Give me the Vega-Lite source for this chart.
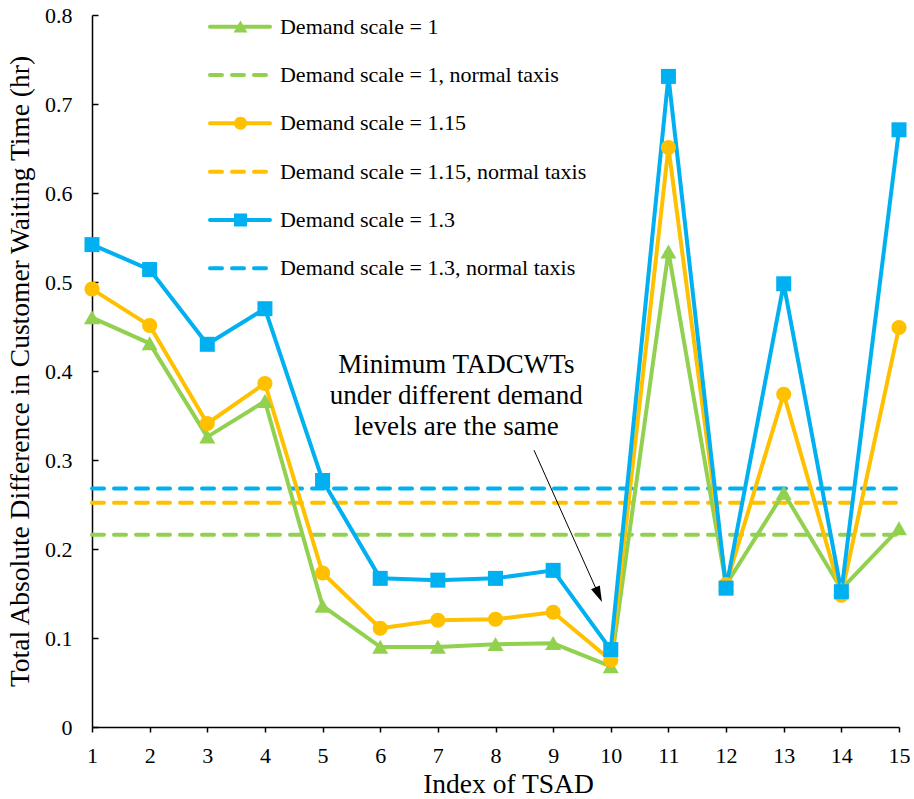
{
  "$schema": "https://vega.github.io/schema/vega-lite/v6.json",
  "width": 807,
  "height": 712,
  "autosize": {"type": "none"},
  "padding": {"left": 92, "top": 15, "right": 15, "bottom": 72},
  "background": "white",
  "config": {
    "view": {"stroke": null},
    "font": "Liberation Serif",
    "axis": {
      "domainColor": "black",
      "domainWidth": 1.5,
      "tickColor": "black",
      "tickWidth": 1.5,
      "labelColor": "black",
      "titleColor": "black",
      "labelFont": "Liberation Serif",
      "titleFont": "Liberation Serif",
      "titleFontWeight": "normal",
      "labelFontSize": 22,
      "titleFontSize": 27.5,
      "grid": false
    }
  },
  "resolve": {"scale": {"y": "independent"}, "axis": {"y": "independent"}},
  "layer": [
    {
      "layer": [
        {
          "data": {
            "values": [
              {"idx": 1, "value": 0.216, "series": "Demand scale = 1, normal taxis"},
              {"idx": 15, "value": 0.216, "series": "Demand scale = 1, normal taxis"},
              {"idx": 1, "value": 0.252, "series": "Demand scale = 1.15, normal taxis"},
              {"idx": 15, "value": 0.252, "series": "Demand scale = 1.15, normal taxis"},
              {"idx": 1, "value": 0.268, "series": "Demand scale = 1.3, normal taxis"},
              {"idx": 15, "value": 0.268, "series": "Demand scale = 1.3, normal taxis"},
              {"idx": 1, "value": 0.46, "series": "Demand scale = 1"},
              {"idx": 2, "value": 0.431, "series": "Demand scale = 1"},
              {"idx": 3, "value": 0.326, "series": "Demand scale = 1"},
              {"idx": 4, "value": 0.366, "series": "Demand scale = 1"},
              {"idx": 5, "value": 0.136, "series": "Demand scale = 1"},
              {"idx": 6, "value": 0.09, "series": "Demand scale = 1"},
              {"idx": 7, "value": 0.09, "series": "Demand scale = 1"},
              {"idx": 8, "value": 0.093, "series": "Demand scale = 1"},
              {"idx": 9, "value": 0.094, "series": "Demand scale = 1"},
              {"idx": 10, "value": 0.068, "series": "Demand scale = 1"},
              {"idx": 11, "value": 0.534, "series": "Demand scale = 1"},
              {"idx": 12, "value": 0.16, "series": "Demand scale = 1"},
              {"idx": 13, "value": 0.263, "series": "Demand scale = 1"},
              {"idx": 14, "value": 0.155, "series": "Demand scale = 1"},
              {"idx": 15, "value": 0.223, "series": "Demand scale = 1"},
              {"idx": 1, "value": 0.492, "series": "Demand scale = 1.15"},
              {"idx": 2, "value": 0.451, "series": "Demand scale = 1.15"},
              {"idx": 3, "value": 0.341, "series": "Demand scale = 1.15"},
              {"idx": 4, "value": 0.386, "series": "Demand scale = 1.15"},
              {"idx": 5, "value": 0.173, "series": "Demand scale = 1.15"},
              {"idx": 6, "value": 0.111, "series": "Demand scale = 1.15"},
              {"idx": 7, "value": 0.12, "series": "Demand scale = 1.15"},
              {"idx": 8, "value": 0.121, "series": "Demand scale = 1.15"},
              {"idx": 9, "value": 0.129, "series": "Demand scale = 1.15"},
              {"idx": 10, "value": 0.075, "series": "Demand scale = 1.15"},
              {"idx": 11, "value": 0.651, "series": "Demand scale = 1.15"},
              {"idx": 12, "value": 0.16, "series": "Demand scale = 1.15"},
              {"idx": 13, "value": 0.374, "series": "Demand scale = 1.15"},
              {"idx": 14, "value": 0.148, "series": "Demand scale = 1.15"},
              {"idx": 15, "value": 0.449, "series": "Demand scale = 1.15"},
              {"idx": 1, "value": 0.542, "series": "Demand scale = 1.3"},
              {"idx": 2, "value": 0.514, "series": "Demand scale = 1.3"},
              {"idx": 3, "value": 0.43, "series": "Demand scale = 1.3"},
              {"idx": 4, "value": 0.47, "series": "Demand scale = 1.3"},
              {"idx": 5, "value": 0.277, "series": "Demand scale = 1.3"},
              {"idx": 6, "value": 0.167, "series": "Demand scale = 1.3"},
              {"idx": 7, "value": 0.165, "series": "Demand scale = 1.3"},
              {"idx": 8, "value": 0.167, "series": "Demand scale = 1.3"},
              {"idx": 9, "value": 0.176, "series": "Demand scale = 1.3"},
              {"idx": 10, "value": 0.087, "series": "Demand scale = 1.3"},
              {"idx": 11, "value": 0.731, "series": "Demand scale = 1.3"},
              {"idx": 12, "value": 0.156, "series": "Demand scale = 1.3"},
              {"idx": 13, "value": 0.498, "series": "Demand scale = 1.3"},
              {"idx": 14, "value": 0.152, "series": "Demand scale = 1.3"},
              {"idx": 15, "value": 0.671, "series": "Demand scale = 1.3"}
            ]
          },
          "encoding": {
            "x": {
              "field": "idx",
              "type": "quantitative",
              "scale": {"domain": [1, 15], "nice": false, "zero": false},
              "axis": {
                "values": [1, 2, 3, 4, 5, 6, 7, 8, 9, 10, 11, 12, 13, 14, 15],
                "format": "d",
                "title": "Index of TSAD",
                "labelFont": "Liberation Serif",
                "titleFont": "Liberation Serif",
                "tickSize": 5,
                "labelBaseline": "alphabetic",
                "labelPadding": 30,
                "labelFlush": false,
                "titleX": 416,
                "titleY": 65,
                "titleAlign": "center",
                "titleBaseline": "alphabetic",
                "titleAnchor": null
              }
            },
            "y": {
              "field": "value",
              "type": "quantitative",
              "scale": {"domain": [0, 0.8], "nice": false, "zero": true},
              "axis": {
                "values": [0, 0.1, 0.2, 0.3, 0.4, 0.5, 0.6, 0.7, 0.8],
                "labelExpr": "datum.value == 0 ? '0' : format(datum.value, '.1f')",
                "title": "Total Absolute Difference in Customer Waiting Time (hr)",
                "labelFont": "Liberation Serif",
                "titleFont": "Liberation Serif",
                "tickSize": -6,
                "labelPadding": 26,
                "labelFlush": false,
                "titleAngle": -90,
                "titleX": -64,
                "titleY": 356,
                "titleAlign": "center",
                "titleBaseline": "alphabetic",
                "titleAnchor": null
              }
            },
            "color": {
              "field": "series",
              "type": "nominal",
              "scale": {
                "domain": ["Demand scale = 1", "Demand scale = 1, normal taxis", "Demand scale = 1.15", "Demand scale = 1.15, normal taxis", "Demand scale = 1.3", "Demand scale = 1.3, normal taxis"],
                "range": ["#92D050", "#92D050", "#FFC000", "#FFC000", "#00B0F0", "#00B0F0"]
              },
              "legend": null
            }
          },
          "layer": [
            {
              "transform": [{"filter": "indexof(datum.series, 'normal') >= 0"}],
              "mark": {"type": "line", "strokeWidth": 4, "strokeCap": "round", "strokeDash": [12, 10]}
            },
            {
              "transform": [{"filter": "indexof(datum.series, 'normal') < 0"}],
              "mark": {"type": "line", "strokeWidth": 4, "strokeJoin": "round", "strokeCap": "round"}
            },
            {
              "transform": [{"filter": "indexof(datum.series, 'normal') < 0"}],
              "mark": {"type": "point", "filled": true, "opacity": 1, "size": 100},
              "encoding": {
                "shape": {
                  "field": "series",
                  "type": "nominal",
                  "scale": {
                    "domain": ["Demand scale = 1", "Demand scale = 1, normal taxis", "Demand scale = 1.15", "Demand scale = 1.15, normal taxis", "Demand scale = 1.3", "Demand scale = 1.3, normal taxis"],
                    "range": ["M0,-1.45L1.6,1.35H-1.6Z", "circle", "M-1.5,0A1.5,1.5,0,1,1,1.5,0A1.5,1.5,0,1,1,-1.5,0Z", "circle", "M-1.5,-1.5H1.5V1.5H-1.5Z", "circle"]
                  },
                  "legend": null
                }
              }
            }
          ]
        },
        {
          "data": {"values": [{}]},
          "mark": {"type": "rule", "color": "black", "strokeWidth": 1},
          "encoding": {
            "x": {"datum": 8.668, "type": "quantitative"},
            "y": {"datum": 0.311, "type": "quantitative"},
            "x2": {"datum": 9.79},
            "y2": {"datum": 0.1487}
          }
        },
        {
          "data": {"values": [{}]},
          "mark": {"type": "point", "filled": true, "color": "black", "opacity": 1, "shape": "M0,-1L0.6,1H-0.6Z", "size": 256, "angle": 156},
          "encoding": {
            "x": {"datum": 9.79, "type": "quantitative"},
            "y": {"datum": 0.1487, "type": "quantitative"}
          }
        },
        {
          "data": {"values": [{}]},
          "mark": {"type": "text", "font": "Liberation Serif", "fontSize": 27, "align": "center", "baseline": "alphabetic", "lineHeight": 31, "color": "black"},
          "encoding": {
            "x": {"datum": 7.32, "type": "quantitative"},
            "y": {"datum": 0.3978, "type": "quantitative"},
            "text": {"value": ["Minimum TADCWTs", "under different demand", "levels are the same"]}
          }
        }
      ]
    },
    {
      "data": {
        "values": [
          {"series": "Demand scale = 1"},
          {"series": "Demand scale = 1, normal taxis"},
          {"series": "Demand scale = 1.15"},
          {"series": "Demand scale = 1.15, normal taxis"},
          {"series": "Demand scale = 1.3"},
          {"series": "Demand scale = 1.3, normal taxis"}
        ]
      },
      "encoding": {
        "y": {
          "field": "series",
          "type": "nominal",
          "scale": {
            "type": "point",
            "domain": ["Demand scale = 1", "Demand scale = 1, normal taxis", "Demand scale = 1.15", "Demand scale = 1.15, normal taxis", "Demand scale = 1.3", "Demand scale = 1.3, normal taxis"],
            "range": [11.7, 253.3],
            "padding": 0
          },
          "axis": null
        }
      },
      "layer": [
        {
          "mark": {"type": "rule", "strokeWidth": 4, "strokeCap": "round"},
          "encoding": {
            "x": {"datum": 3.047, "type": "quantitative"},
            "x2": {"datum": 4.088},
            "color": {"field": "series", "type": "nominal", "legend": null},
            "strokeDash": {
              "field": "series",
              "type": "nominal",
              "scale": {
                "domain": ["Demand scale = 1", "Demand scale = 1, normal taxis", "Demand scale = 1.15", "Demand scale = 1.15, normal taxis", "Demand scale = 1.3", "Demand scale = 1.3, normal taxis"],
                "range": [[1, 0], [12, 10], [1, 0], [12, 10], [1, 0], [12, 10]]
              },
              "legend": null
            }
          }
        },
        {
          "transform": [{"filter": "indexof(datum.series, 'normal') < 0"}],
          "mark": {"type": "point", "filled": true, "opacity": 1, "size": 75},
          "encoding": {
            "x": {"datum": 3.576, "type": "quantitative"},
            "color": {"field": "series", "type": "nominal", "legend": null},
            "shape": {"field": "series", "type": "nominal", "legend": null}
          }
        },
        {
          "mark": {"type": "text", "font": "Liberation Serif", "fontSize": 22, "align": "left", "baseline": "middle", "color": "black"},
          "encoding": {
            "x": {"datum": 4.261, "type": "quantitative"},
            "text": {"field": "series", "type": "nominal"}
          }
        }
      ]
    }
  ]
}
